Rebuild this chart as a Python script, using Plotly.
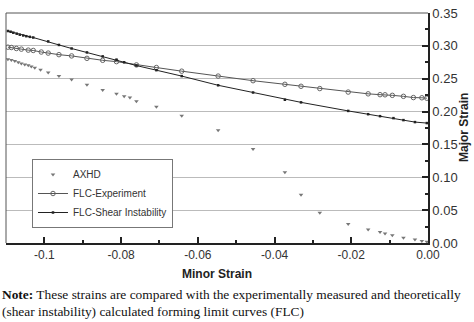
import plotly.graph_objects as go

# ---- data ----
axhd_x = [-0.1095, -0.1086, -0.1077, -0.1068, -0.1060, -0.1051, -0.1042, -0.1034, -0.1025, -0.1010,
          -0.0990, -0.0962, -0.0929, -0.0889, -0.0848, -0.0812, -0.0792, -0.0777, -0.0760, -0.0708,
          -0.0642, -0.0547, -0.0456, -0.0373, -0.0331, -0.0282, -0.0208, -0.0156, -0.0125, -0.0112,
          -0.0093, -0.0064, -0.0034, -0.0016, -0.0003]
axhd_y = [0.2798, 0.2784, 0.2769, 0.2750, 0.2733, 0.2718, 0.2704, 0.2685, 0.2665, 0.2636,
          0.2596, 0.2540, 0.2488, 0.2409, 0.2330, 0.2272, 0.2232, 0.2213, 0.2158, 0.2075,
          0.1937, 0.1716, 0.1430, 0.1077, 0.0733, 0.0462, 0.0290, 0.0206, 0.0167, 0.0143,
          0.0118, 0.0078, 0.0055, 0.0030, 0.0020]

exp_x = [-0.1095, -0.1086, -0.1073, -0.1060, -0.1042, -0.1029, -0.1008, -0.0990, -0.0962, -0.0929,
         -0.0889, -0.0848, -0.0812, -0.0760, -0.0708, -0.0642, -0.0547, -0.0456, -0.0373, -0.0331,
         -0.0282, -0.0208, -0.0156, -0.0125, -0.0112, -0.0093, -0.0064, -0.0038, -0.0016, -0.0003]
exp_y = [0.2980, 0.2975, 0.2960, 0.2950, 0.2935, 0.2930, 0.2906, 0.2890, 0.2866, 0.2847,
         0.2810, 0.2780, 0.2760, 0.2710, 0.2670, 0.2615, 0.2540, 0.2470, 0.2415, 0.2385,
         0.2350, 0.2297, 0.2270, 0.2257, 0.2255, 0.2247, 0.2232, 0.2213, 0.2210, 0.2203]

shear_x = [-0.1095, -0.1088, -0.1081, -0.1072, -0.1064, -0.1055, -0.1047, -0.1038, -0.1029, -0.0990,
           -0.0962, -0.0929, -0.0889, -0.0848, -0.0812, -0.0792, -0.0760, -0.0708, -0.0642, -0.0547,
           -0.0456, -0.0373, -0.0331, -0.0208, -0.0156, -0.0125, -0.0090, -0.0064, -0.0034, -0.0003]
shear_y = [0.3226, 0.3215, 0.3200, 0.3185, 0.3170, 0.3158, 0.3147, 0.3137, 0.3127, 0.3068,
           0.3014, 0.2960, 0.2900, 0.2840, 0.2790, 0.2750, 0.2700, 0.2630, 0.2540, 0.2400,
           0.2290, 0.2180, 0.2140, 0.2010, 0.1960, 0.1930, 0.1900, 0.1870, 0.1840, 0.1825]

x_tickvals = [-0.1, -0.08, -0.06, -0.04, -0.02, 0.0]
x_ticktext = ["-0.1", "-0.08", "-0.06", "-0.04", "-0.02", "0.00"]
y_tickvals = [0.0, 0.05, 0.10, 0.15, 0.20, 0.25, 0.30, 0.35]

fig = go.Figure()
fig.add_trace(go.Scatter(
    x=axhd_x, y=axhd_y, mode="markers", name="AXHD",
    marker=dict(symbol="triangle-down", size=4, color="#777777")))
fig.add_trace(go.Scatter(
    x=exp_x, y=exp_y, mode="lines+markers", name="FLC-Experiment",
    line=dict(color="#555555", width=1),
    marker=dict(symbol="circle-open", size=4.5, color="#666666", line=dict(width=1))))
fig.add_trace(go.Scatter(
    x=shear_x, y=shear_y, mode="lines+markers", name="FLC-Shear Instability",
    line=dict(color="#222222", width=1),
    marker=dict(symbol="square", size=2.5, color="#222222")))

fig.update_layout(
    width=474, height=322,
    margin=dict(l=6, r=46, t=6, b=79),
    paper_bgcolor="white", plot_bgcolor="white",
    font=dict(family="Liberation Sans, Arial, sans-serif", size=12, color="#333333"),
    showlegend=True,
    legend=dict(x=0.0616, y=(243 - 192) / 237, xanchor="left", yanchor="middle",
                bgcolor="white", bordercolor="#777777", borderwidth=1,
                itemwidth=30,
                font=dict(size=10, color="#333333"), tracegroupgap=0),
    xaxis=dict(range=[-0.11, 0.0], tickvals=x_tickvals, ticktext=x_ticktext,
               ticks="inside", ticklen=6, tickwidth=1.5, tickcolor="#222222",
               showline=True, linecolor="#222222", linewidth=1.5, mirror=False,
               showgrid=False, zeroline=False, ticklabeloverflow="allow",
               tickfont=dict(size=12, color="#333333"),
               minor=dict(dtick=0.01, tick0=0, ticks="inside", ticklen=3, tickcolor="#222222")),
    yaxis=dict(range=[0, 0.35], tickvals=y_tickvals, tickformat=".2f", side="right",
               ticks="inside", ticklen=6, tickwidth=1.5, tickcolor="#222222",
               showline=True, linecolor="#222222", linewidth=1.5,
               showgrid=True, gridcolor="#bbbbbb", gridwidth=1, zeroline=False,
               ticklabeloverflow="allow",
               tickfont=dict(size=13, color="#333333"),
               minor=dict(dtick=0.025, tick0=0, ticks="inside", ticklen=3, tickcolor="#222222")),
)

# left and top frame lines
fig.add_shape(type="line", xref="paper", yref="paper", x0=0, x1=0, y0=0, y1=1,
              line=dict(color="#555555", width=1))
fig.add_shape(type="line", xref="paper", yref="paper", x0=0, x1=1, y0=1, y1=1,
              line=dict(color="#555555", width=1))

# axis titles
fig.add_annotation(text="<b>Minor Strain</b>", xref="paper", yref="paper",
                   x=0.5, y=-0.135, xanchor="center", yanchor="middle", showarrow=False,
                   font=dict(size=12, color="#222222"))
fig.add_annotation(text="<b>Major Strain</b>", xref="paper", yref="paper",
                   x=(464 - 6) / 422, y=0.5, xanchor="center", yanchor="middle", showarrow=False,
                   textangle=-90, font=dict(size=12, color="#222222"))

# note
fig.add_annotation(
    text="<b>Note:</b> These strains are compared with the experimentally measured and theoretically<br>"
         "(shear instability) calculated forming limit curves (FLC)",
    xref="paper", yref="paper", x=-6 / 422, y=(243 - 305) / 237,
    xanchor="left", yanchor="middle", align="left", showarrow=False,
    font=dict(family="Liberation Serif, Times New Roman, serif", size=13.4, color="#111111"))

fig.write_html("out.html")
